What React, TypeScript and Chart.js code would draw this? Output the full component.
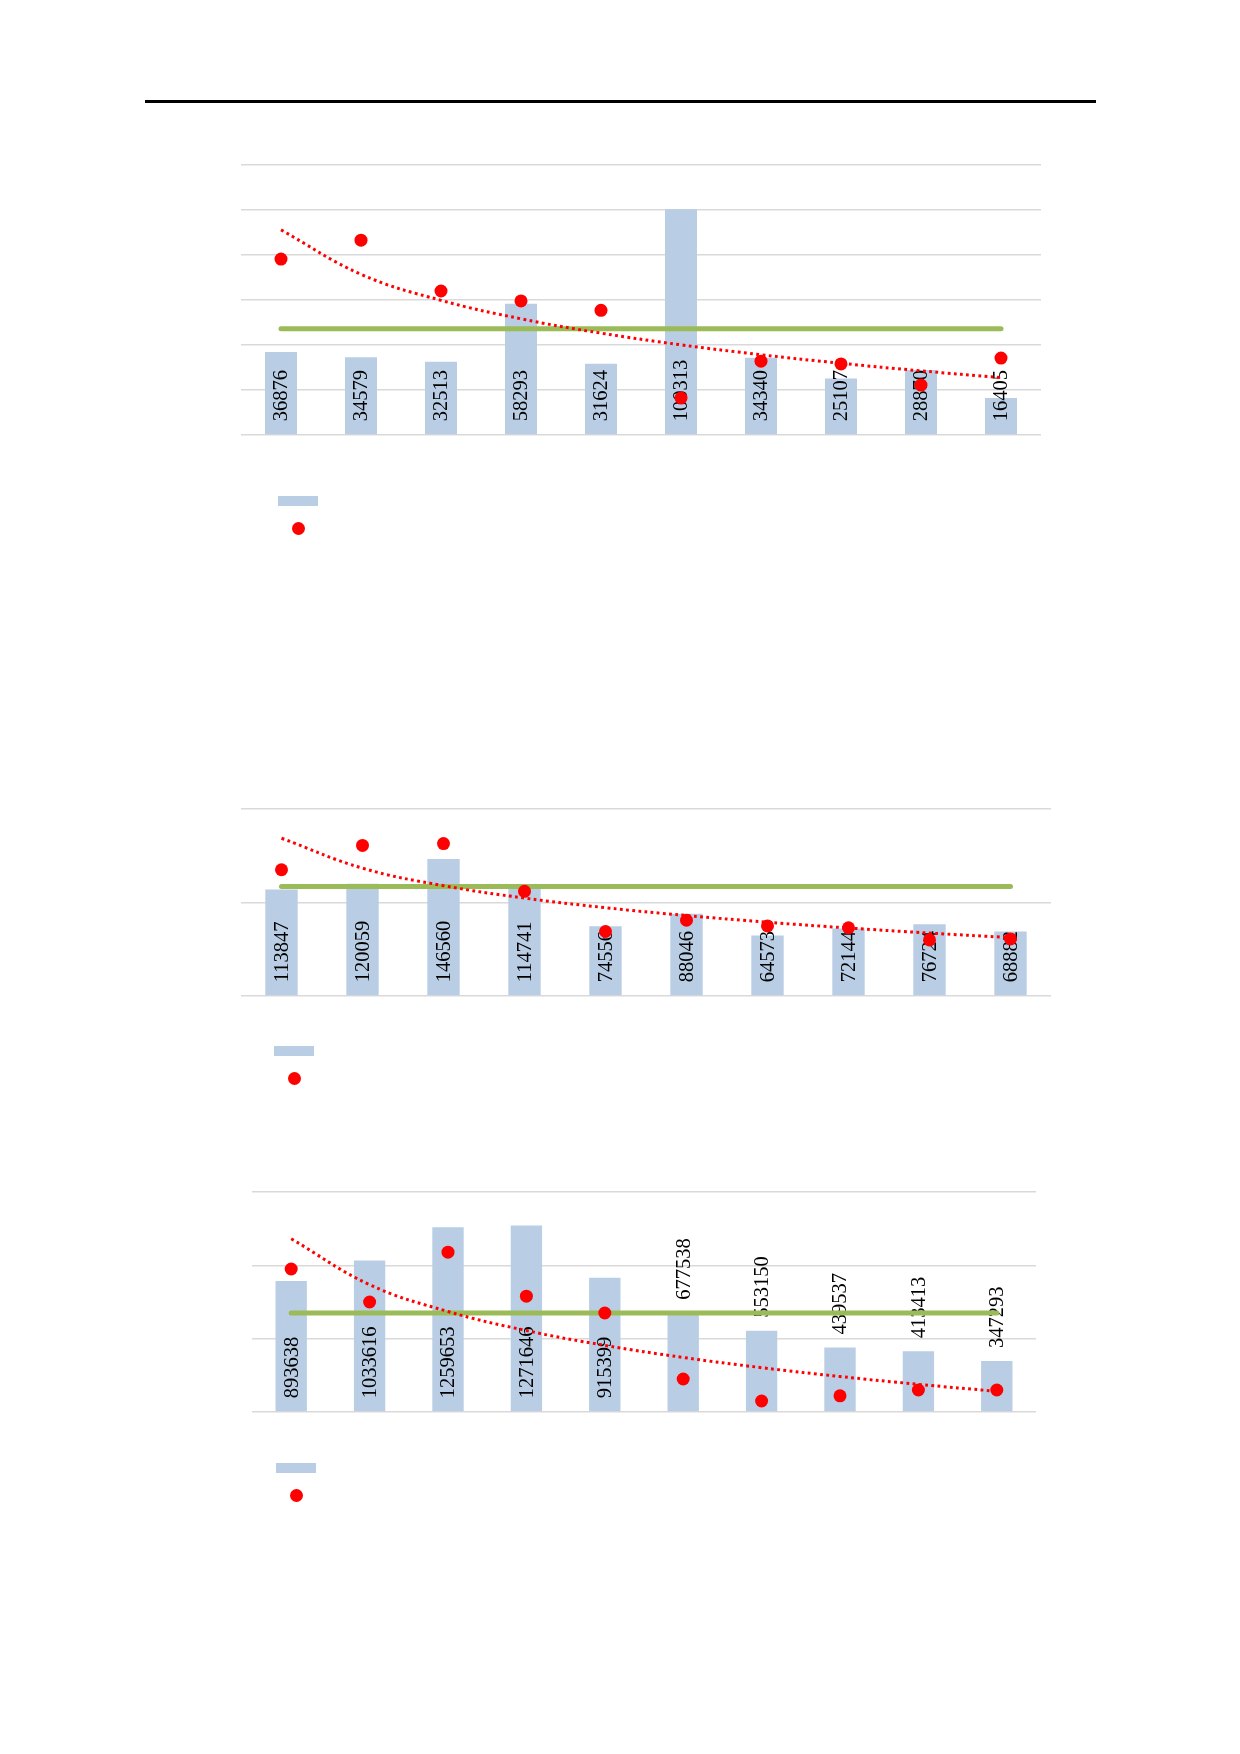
import { useEffect, useRef } from "react";
import { Chart, registerables } from "chart.js";

Chart.register(...registerables);

const categories = ["1", "2", "3", "4", "5", "6", "7", "8", "9", "10"];

// chart 1
const bars1 = [36876, 34579, 32513, 58293, 31624, 100313, 34340, 25107, 28870, 16405];
const dots1 = [3.91, 4.33, 3.2, 2.98, 2.77, 0.82, 1.64, 1.58, 1.11, 1.71];
const level1 = 2.36;

// chart 2
const bars2 = [113847, 120059, 146560, 114741, 74556, 88046, 64573, 72144, 76724, 68882];
const dots2 = [1.35, 1.61, 1.63, 1.12, 0.69, 0.81, 0.75, 0.73, 0.6, 0.61];
const level2 = 1.17;

// chart 3
const bars3 = [893638, 1033616, 1259653, 1271646, 915399, 677538, 553150, 439537, 413413, 347293];
const dots3 = [1.95, 1.5, 2.18, 1.58, 1.35, 0.45, 0.15, 0.22, 0.3, 0.3];
const level3 = 1.35;

const BAR_COLOR = "#B9CDE5";
const DOT_COLOR = "#FF0000";
const LEVEL_COLOR = "#9BBB59";
const GRID_COLOR = "#D9D9D9";
const PAD = 12;

// logarithmic trend line fitted to the dots (y = a + b ln x)
function logTrend(values: number[]) {
  const xs = values.map((_, i) => Math.log(i + 1));
  const n = values.length;
  const mx = xs.reduce((s, v) => s + v, 0) / n;
  const my = values.reduce((s, v) => s + v, 0) / n;
  let sxy = 0;
  let sxx = 0;
  xs.forEach((x, i) => {
    sxy += (x - mx) * (values[i] - my);
    sxx += (x - mx) * (x - mx);
  });
  const b = sxy / sxx;
  const a = my - b * mx;
  return xs.map((x) => a + b * x);
}

const barLabels = {
  id: "barLabels",
  afterDatasetDraw(chart: any, args: any, opts: any) {
    if (args.meta.type !== "bar") return;
    const values = chart.data.datasets[args.index].data as number[];
    const ctx = chart.ctx;
    ctx.save();
    ctx.font = '20.5px "Liberation Serif", "Times New Roman", serif';
    ctx.fillStyle = "#000000";
    ctx.textAlign = "left";
    ctx.textBaseline = "middle";
    args.meta.data.forEach((bar: any, i: number) => {
      const { x, y, base } = bar.getProps(["x", "y", "base"], true);
      const onTop = opts.topFrom != null && i >= opts.topFrom;
      const start = (onTop ? y : base) - 13;
      ctx.save();
      ctx.translate(x + 1, start);
      ctx.rotate(-Math.PI / 2);
      ctx.fillText(String(values[i]), 0, 0);
      ctx.restore();
    });
    ctx.restore();
  },
};

type Area = { left: number; top: number; width: number; height: number };

type ComboProps = {
  bars: number[];
  dots: number[];
  level: number;
  yMax: number;
  yStep: number;
  dotMax: number;
  area: Area;
  topFrom?: number;
};

function ComboChart({ bars, dots, level, yMax, yStep, dotMax, area, topFrom }: ComboProps) {
  const canvasRef = useRef<HTMLCanvasElement | null>(null);
  const chartRef = useRef<Chart | null>(null);

  useEffect(() => {
    if (!canvasRef.current) return;
    if (chartRef.current) chartRef.current.destroy();

    const trend = logTrend(dots);
    const levelLine = categories.map(() => level);

    chartRef.current = new Chart(canvasRef.current, {
      type: "bar",
      data: {
        labels: categories,
        datasets: [
          {
            type: "line",
            data: dots,
            yAxisID: "y1",
            showLine: false,
            pointRadius: 6.5,
            pointBackgroundColor: DOT_COLOR,
            pointBorderWidth: 0,
            clip: false,
            order: 0,
          } as any,
          {
            type: "line",
            data: trend,
            yAxisID: "y1",
            borderColor: DOT_COLOR,
            borderWidth: 3,
            borderDash: [2.8, 3.4],
            pointRadius: 0,
            tension: 0.4,
            clip: false,
            order: 1,
          } as any,
          {
            type: "line",
            data: levelLine,
            yAxisID: "y1",
            borderColor: LEVEL_COLOR,
            borderWidth: 5,
            borderCapStyle: "round",
            pointRadius: 0,
            clip: false,
            order: 2,
          } as any,
          {
            type: "bar",
            data: bars,
            yAxisID: "y",
            backgroundColor: BAR_COLOR,
            barPercentage: 0.4,
            categoryPercentage: 1,
            order: 3,
          },
        ],
      },
      options: {
        animation: false,
        responsive: true,
        maintainAspectRatio: false,
        layout: { padding: PAD },
        events: [],
        plugins: {
          legend: { display: false },
          tooltip: { enabled: false },
          barLabels: { topFrom },
        } as any,
        scales: {
          x: { display: false },
          y: {
            min: 0,
            max: yMax,
            ticks: { display: false, stepSize: yStep },
            grid: { color: GRID_COLOR, lineWidth: 1.5, drawTicks: false },
            border: { display: false },
          },
          y1: { display: false, min: 0, max: dotMax },
        },
      },
      plugins: [barLabels],
    });

    return () => {
      if (chartRef.current) {
        chartRef.current.destroy();
        chartRef.current = null;
      }
    };
  }, [bars, dots, level, yMax, yStep, dotMax, topFrom]);

  return (
    <div
      style={{
        position: "absolute",
        left: area.left - PAD,
        top: area.top - PAD,
        width: area.width + PAD * 2,
        height: area.height + PAD * 2,
      }}
    >
      <canvas ref={canvasRef} />
    </div>
  );
}

function Legend({ left, top }: { left: number; top: number }) {
  return (
    <>
      <div
        style={{
          position: "absolute",
          left,
          top,
          width: 40,
          height: 10,
          background: BAR_COLOR,
        }}
      />
      <div
        style={{
          position: "absolute",
          left: left + 13.5,
          top: top + 25.5,
          width: 13,
          height: 13,
          borderRadius: "50%",
          background: DOT_COLOR,
        }}
      />
    </>
  );
}

export default function App() {
  return (
    <div
      style={{
        position: "absolute",
        left: 0,
        top: 0,
        width: 1240,
        height: 1754,
        background: "#ffffff",
      }}
    >
      <div
        style={{
          position: "absolute",
          left: 145,
          top: 100,
          width: 951,
          height: 3,
          background: "#000000",
        }}
      />

      <ComboChart
        bars={bars1}
        dots={dots1}
        level={level1}
        yMax={120000}
        yStep={20000}
        dotMax={6}
        area={{ left: 241, top: 165, width: 800, height: 270 }}
      />
      <Legend left={278} top={496} />

      <ComboChart
        bars={bars2}
        dots={dots2}
        level={level2}
        yMax={200000}
        yStep={100000}
        dotMax={2}
        area={{ left: 241, top: 809, width: 810, height: 187 }}
      />
      <Legend left={274} top={1046} />

      <ComboChart
        bars={bars3}
        dots={dots3}
        level={level3}
        yMax={1500000}
        yStep={500000}
        dotMax={3}
        topFrom={5}
        area={{ left: 252, top: 1192, width: 784, height: 220 }}
      />
      <Legend left={276} top={1463} />
    </div>
  );
}
